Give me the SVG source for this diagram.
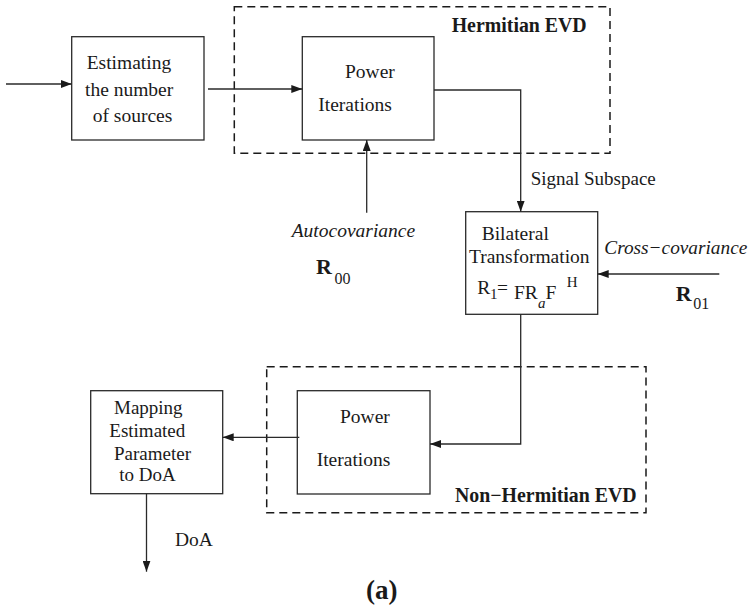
<svg xmlns="http://www.w3.org/2000/svg" width="754" height="606" viewBox="0 0 754 606">
<style>
.box{fill:none;stroke:#2a2a2a;stroke-width:1.3}
.dash{fill:none;stroke:#1a1a1a;stroke-width:1.5;stroke-dasharray:8 5}
.con{fill:none;stroke:#2a2a2a;stroke-width:1.3}
text{fill:#1a1a1a}
.b{font-weight:bold}
.i{font-style:italic}
</style>
<defs>
<marker id="ah" markerUnits="userSpaceOnUse" markerWidth="12" markerHeight="8" refX="11" refY="4" orient="auto">
<path d="M0,0 L11,4 L0,8 z" fill="#1a1a1a"/>
</marker>
</defs>
<rect width="754" height="606" fill="#fff"/>
<g font-family="Liberation Serif, Times New Roman, Times, serif" font-size="19.5">

<g id="hermitian-evd">
<rect class="dash" x="234.3" y="6.7" width="375.7" height="146.6"/>
<text class="b" x="451.7" y="31.7" font-size="20" textLength="135" lengthAdjust="spacingAndGlyphs">Hermitian EVD</text>
</g>
<g id="non-hermitian-evd">
<rect class="dash" x="266.7" y="366.7" width="379.3" height="146"/>
<text class="b" x="455" y="501.7" font-size="20" textLength="181.7" lengthAdjust="spacingAndGlyphs">Non−Hermitian EVD</text>
</g>

<g id="estimating">
<rect class="box" x="71.7" y="36.7" width="132.3" height="103.3"/>
<text><tspan x="86.7" y="69.3">Estimating</tspan><tspan x="85" y="95.7">the number</tspan><tspan x="92.7" y="121.7">of sources</tspan></text>
</g>

<g id="power1">
<rect class="box" x="302.3" y="36.7" width="131.7" height="103.3"/>
<text><tspan x="345" y="78.3">Power</tspan><tspan x="318.3" y="111">Iterations</tspan></text>
</g>

<g id="bilateral">
<rect class="box" x="465.7" y="211.7" width="132" height="102.6"/>
<text><tspan x="481.7" y="239.5">Bilateral</tspan><tspan x="469" y="263.3">Transformation</tspan></text>
<text><tspan x="477.3" y="294">R</tspan><tspan x="490" y="299" font-size="15">1</tspan><tspan x="497" y="294">=</tspan><tspan x="514" y="299.3">FR</tspan><tspan x="538" y="308" font-size="15" font-style="italic">a</tspan><tspan x="545.5" y="299.3">F</tspan><tspan x="566.7" y="287" font-size="15">H</tspan></text>
</g>

<g id="power2">
<rect class="box" x="297.3" y="390.7" width="132.7" height="103.3"/>
<text><tspan x="340" y="422.7">Power</tspan><tspan x="316.7" y="465.7">Iterations</tspan></text>
</g>

<g id="mapping">
<rect class="box" x="90.7" y="390.7" width="132" height="103"/>
<text font-size="19"><tspan x="114" y="414">Mapping</tspan><tspan x="109.3" y="437">Estimated</tspan><tspan x="114" y="459.5">Parameter</tspan><tspan x="119.3" y="481">to DoA</tspan></text>
</g>

<g id="connectors">
<line class="con" x1="6" y1="84" x2="71.7" y2="84" marker-end="url(#ah)"/>
<line class="con" x1="208" y1="89" x2="302.3" y2="89" marker-end="url(#ah)"/>
<polyline class="con" points="434,90 520.7,90 520.7,211.7" marker-end="url(#ah)"/>
<line class="con" x1="366.7" y1="212.7" x2="366.7" y2="140" marker-end="url(#ah)"/>
<line class="con" x1="719.3" y1="274" x2="597.7" y2="274" marker-end="url(#ah)"/>
<polyline class="con" points="520.7,314.3 520.7,444 430,444" marker-end="url(#ah)"/>
<line class="con" x1="299.3" y1="437.3" x2="222.7" y2="437.3" marker-end="url(#ah)"/>
<line class="con" x1="146.5" y1="493.7" x2="146.5" y2="571.7" marker-end="url(#ah)"/>
</g>

<g id="labels">
<text x="530.7" y="185" font-size="19">Signal Subspace</text>
<text class="i" x="291.7" y="236.7">Autocovariance</text>
<text><tspan x="316" y="274" font-size="22" font-weight="bold">R</tspan><tspan x="334.5" y="284" font-size="16">00</tspan></text>
<text class="i" x="604.3" y="254" font-size="19.3">Cross−covariance</text>
<text><tspan x="675.7" y="300.7" font-size="22" font-weight="bold">R</tspan><tspan x="693.3" y="309.3" font-size="16">01</tspan></text>
<text x="175" y="546">DoA</text>
<text class="b" x="366" y="599" font-size="27">(a)</text>
</g>
</g>
</svg>
